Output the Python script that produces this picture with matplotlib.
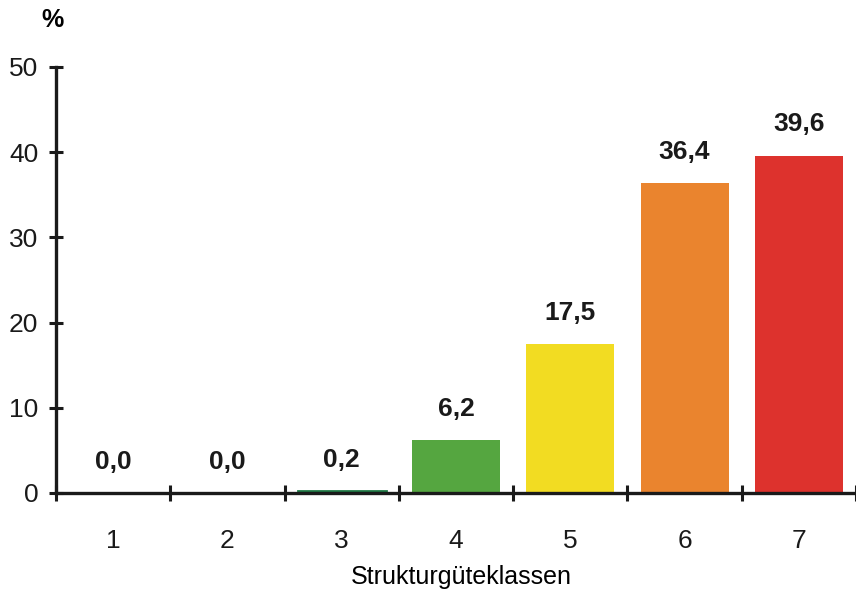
import matplotlib
matplotlib.use("Agg")
import matplotlib.pyplot as plt

# Anteil der Gewässerstrecke je Strukturgüteklasse (%)
klassen = ["1", "2", "3", "4", "5", "6", "7"]
anteile = [0.0, 0.0, 0.2, 6.2, 17.5, 36.4, 39.6]
farben = ["#1b5fa8", "#3a9ad6", "#1e7a45", "#55a640", "#f2dc22", "#ea842e", "#dd322d"]
y_ticks = [0, 10, 20, 30, 40, 50]

schrift = ["Liberation Sans", "DejaVu Sans"]

fig = plt.figure(figsize=(8.56, 5.92), dpi=100)
ax = fig.add_axes([56 / 856, 99 / 592, 800 / 856, 426 / 592])

pos = list(range(1, len(klassen) + 1))
# sehr kleine Anteile bekommen einen Rand, damit sie sichtbar bleiben
rand = [2.0 if 0 < v < 1 else 0.0 for v in anteile]
ax.bar(pos, anteile, width=0.77, color=farben, edgecolor=farben,
       linewidth=rand, zorder=2)

for x, v in zip(pos, anteile):
    ax.annotate(f"{v:.1f}".replace(".", ","), xy=(x, v), xytext=(0, 17.5),
                textcoords="offset points", ha="center", va="baseline",
                fontsize=19, fontweight="bold", color="#1a1a1a",
                family=schrift)

ax.set_xlim(0.5, len(klassen) + 0.5)
ax.set_ylim(0, 50)

for s in ("top", "right"):
    ax.spines[s].set_visible(False)
ax.spines["left"].set_linewidth(2.4)
ax.spines["bottom"].set_linewidth(2.4)
ax.spines["left"].set_color("#1a1a1a")
ax.spines["bottom"].set_color("#1a1a1a")
ax.spines["bottom"].set_zorder(3)

ax.set_yticks(y_ticks)
ax.set_yticklabels([str(t) for t in y_ticks], family=schrift, fontsize=19)
ax.tick_params(axis="y", direction="inout", length=9.5, width=2.2,
               color="#1a1a1a", pad=8)

# Klassengrenzen als Striche, Beschriftung in der Klassenmitte
ax.set_xticks([p - 0.5 for p in pos] + [len(klassen) + 0.5])
ax.set_xticklabels([])
ax.tick_params(axis="x", which="major", direction="inout", length=11.5,
               width=2.2, color="#1a1a1a")
ax.set_xticks(pos, minor=True)
ax.set_xticklabels(klassen, minor=True, family=schrift, fontsize=19)
ax.tick_params(axis="x", which="minor", length=0, pad=26)

ax.set_xlabel("Strukturgüteklassen", family=schrift, fontsize=18, labelpad=2)
ax.xaxis.set_label_coords(405 / 800, -0.17)

fig.text(52 / 856, 1 - 20 / 592, "%", ha="center", va="center",
         family=schrift, fontsize=18, fontweight="bold")

for t in ax.get_yticklabels() + ax.get_xticklabels(minor=True):
    t.set_color("#1a1a1a")

fig.savefig("out.png", dpi=100)
